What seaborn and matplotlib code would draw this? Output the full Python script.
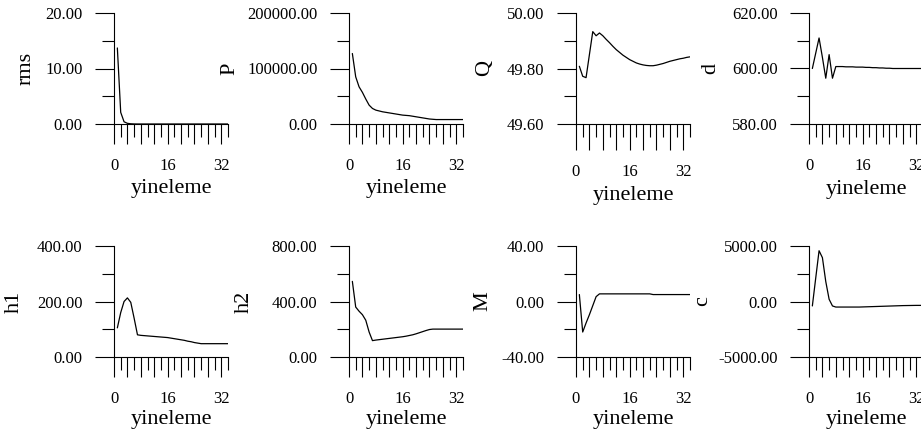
import numpy as np
import pandas as pd
import seaborn as sns
import matplotlib.pyplot as plt
import matplotlib.transforms as mtransforms
from matplotlib.ticker import MultipleLocator, FuncFormatter

sns.set_theme(style="ticks")
plt.rcParams['font.family'] = ['Liberation Serif', 'DejaVu Serif']

iteration = list(range(1, 35))

rms = [13.7, 2.1, 0.4, 0.12, 0.04, 0.01, 0.0, 0.0, 0.0, 0.0, 0.0, 0.0, 0.0, 0.0, 0.0, 0.0, 0.0,
       0.0, 0.0, 0.0, 0.0, 0.0, 0.0, 0.0, 0.0, 0.0, 0.0, 0.0, 0.0, 0.0, 0.0, 0.0, 0.0, 0.0]
P = [127000, 85000, 67000, 57000, 45000, 34000, 28000, 25000, 23500, 22000, 21000, 20000,
     19000, 18000, 17000, 16000, 15500, 15000, 14000, 13000, 12000, 11000, 10000, 9000,
     8500, 8000, 8000, 8000, 8000, 8000, 8000, 8000, 8000, 8000]
Q = [49.808, 49.772, 49.767, 49.85, 49.933, 49.918, 49.928, 49.918, 49.905, 49.893, 49.88,
     49.868, 49.858, 49.848, 49.84, 49.832, 49.826, 49.82, 49.816, 49.813, 49.811, 49.81,
     49.81, 49.812, 49.815, 49.818, 49.822, 49.826, 49.829, 49.832, 49.835, 49.837, 49.84, 49.842]
d = [600, 605.5, 611, 604, 596.5, 605, 596.5, 600.7, 600.7, 600.7, 600.6, 600.6, 600.6,
     600.5, 600.5, 600.5, 600.4, 600.4, 600.3, 600.3, 600.2, 600.2, 600.1, 600.1,
     600.0, 600.0, 600.0, 600.0, 600.0, 600.0, 600.0, 600.0, 600.0, 600.0]
h1 = [105, 160, 200, 213, 197, 140, 80, 78, 77, 76, 75, 74, 73, 72, 71, 70, 68, 66, 64, 62,
      60, 57, 55, 52, 50, 48, 48, 48, 48, 48, 48, 48, 48, 48]
h2 = [545, 360, 330, 305, 265, 180, 118, 122, 125, 128, 131, 134, 137, 140, 143, 146, 150,
      155, 160, 167, 175, 183, 191, 198, 201, 201, 201, 201, 201, 201, 201, 201, 201, 201]
M = [5, -22, -15.5, -9.5, -3, 3.5, 5.5, 5.5, 5.5, 5.5, 5.5, 5.5, 5.5, 5.5, 5.5, 5.5, 5.5,
     5.5, 5.5, 5.5, 5.5, 5.5, 5, 5, 5, 5, 5, 5, 5, 5, 5, 5, 5, 5]
c = [-400, 2100, 4575, 3950, 1800, 200, -400, -500, -500, -500, -500, -500, -500, -500,
     -500, -490, -480, -470, -460, -450, -440, -430, -420, -410, -400, -390, -380, -370,
     -365, -360, -355, -350, -350, -350]

names = ["rms", "P", "Q", "d", "h1", "h2", "M", "c"]
series = [rms, P, Q, d, h1, h2, M, c]
ylims = [(0, 20), (0, 200000), (49.6, 50.0), (580, 620),
         (0, 400), (0, 800), (-40, 40), (-5000, 5000)]

# layout in pixels (921 x 437 canvas)
W, H = 921, 437
col_left = [114, 349, 576, 809]
row_top = [13, 246]
ax_w, ax_h = 114, 111
ylabel_x = [26, 230, 485, 711, 14, 244, 483, 703]
xlabel_top = [179, 179, 186, 180, 410, 410, 410, 410]

fig = plt.figure(figsize=(W / 100, H / 100), dpi=100)

for i, name in enumerate(names):
    row, col = divmod(i, 4)
    left = col_left[col] / W
    bottom = 1 - (row_top[row] + ax_h) / H
    ax = fig.add_axes([left, bottom, ax_w / W, ax_h / H])
    ax.set_facecolor("white")
    ax.grid(False)

    df = pd.DataFrame({"yineleme": iteration, name: series[i]})
    sns.lineplot(data=df, x="yineleme", y=name, ax=ax, color="black", linewidth=0.9)

    lo, hi = ylims[i]
    ax.set_xlim(0, 34)
    ax.set_ylim(lo, hi)
    ax.yaxis.set_major_locator(MultipleLocator((hi - lo) / 2))
    ax.yaxis.set_minor_locator(MultipleLocator((hi - lo) / 4))
    ax.yaxis.set_major_formatter(FuncFormatter(lambda v, p: f"{v:.2f}"))
    ax.xaxis.set_major_locator(MultipleLocator(4))
    ax.xaxis.set_minor_locator(MultipleLocator(2))
    ax.xaxis.set_major_formatter(
        FuncFormatter(lambda v, p: f"{v:.0f}" if round(v) in (0, 16, 32) else ""))

    for side in ["top", "right"]:
        ax.spines[side].set_visible(False)
    for side in ["left", "bottom"]:
        ax.spines[side].set_linewidth(0.8)
        ax.spines[side].set_color("black")

    xmaj = 18.7 if name == "Q" else 14.4
    ax.tick_params(axis="y", which="major", direction="out", length=13.7, width=0.8,
                   color="black", pad=9, labelsize=12, labelcolor="black")
    ax.tick_params(axis="y", which="minor", direction="out", length=8.6, width=0.8, color="black")
    ax.tick_params(axis="x", which="major", direction="out", length=xmaj, width=0.8,
                   color="black", pad=10, labelsize=12, labelcolor="black")
    ax.tick_params(axis="x", which="minor", direction="out", length=9.4, width=0.8, color="black")

    ax.set_ylabel(name, fontsize=16, color="black", va="center")
    ax.set_xlabel("yineleme", fontsize=16, color="black")
    ax.yaxis.set_label_coords(ylabel_x[i] / W, 0.5,
                              transform=mtransforms.blended_transform_factory(fig.transFigure, ax.transAxes))
    ax.xaxis.set_label_coords(0.5, 1 - xlabel_top[i] / H,
                              transform=mtransforms.blended_transform_factory(ax.transAxes, fig.transFigure))

fig.savefig("out.png", dpi=100, facecolor="white")
